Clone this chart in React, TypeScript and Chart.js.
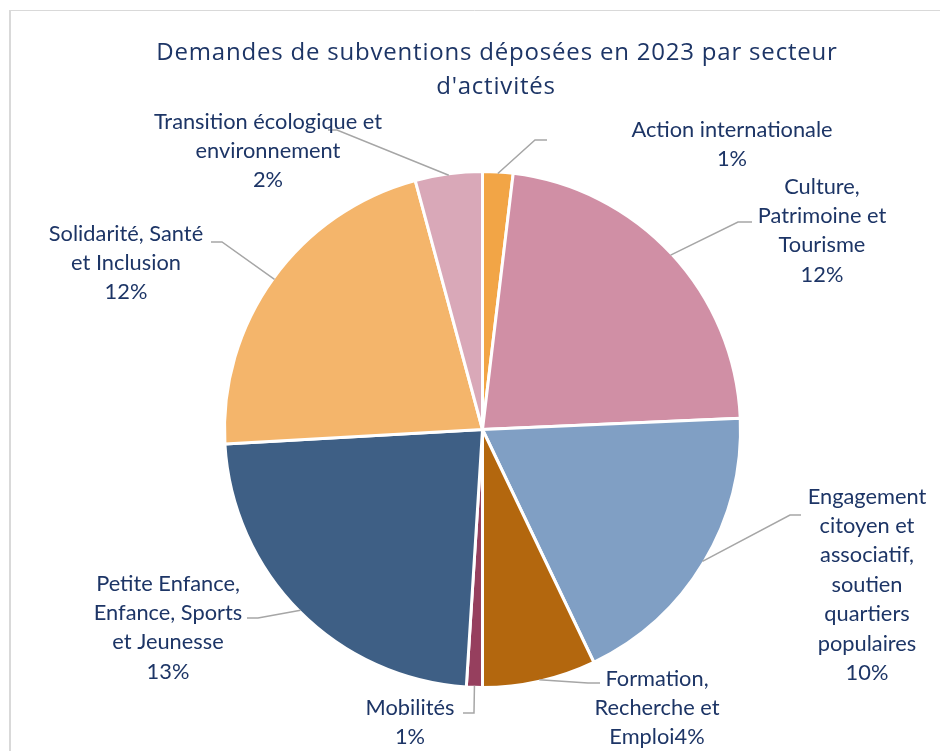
import React, { useEffect, useRef } from "react";
import { Chart, registerables } from "chart.js";

Chart.register(...registerables);

const categories = [
  "Action internationale",
  "Culture, Patrimoine et Tourisme",
  "Engagement citoyen et associatif, soutien quartiers populaires",
  "Formation, Recherche et Emploi",
  "Mobilités",
  "Petite Enfance, Enfance, Sports et Jeunesse",
  "Solidarité, Santé et Inclusion",
  "Transition écologique et environnement",
];

const sliceValues = [1.9, 22.4, 18.6, 7.1, 1.0, 23.1, 21.7, 4.2];

const labelLines = [
  ["Action internationale", "1%"],
  ["Culture,", "Patrimoine et", "Tourisme", "12%"],
  ["Engagement", "citoyen et", "associatif,", "soutien", "quartiers", "populaires", "10%"],
  ["Formation,", "Recherche et", "Emploi4%"],
  ["Mobilités", "1%"],
  ["Petite Enfance,", "Enfance, Sports", "et Jeunesse", "13%"],
  ["Solidarité, Santé", "et Inclusion", "12%"],
  ["Transition écologique et", "environnement", "2%"],
];

const sliceColors = [
  "#F2A546",
  "#D08FA5",
  "#809FC4",
  "#B3670E",
  "#963F5E",
  "#3E5F85",
  "#F4B56B",
  "#D9A8B8",
];

const titleLines = ["Demandes de subventions déposées en 2023 par secteur", "d'activités"];

// label placement (text centre x, first line centre y, leader elbow, leader end x)
const labelLayout = [
  { tx: 732, ty: 129, ex: 535, ey: 140, hx: 547 },
  { tx: 822, ty: 186, ex: 738, ey: 222, hx: 752 },
  { tx: 867, ty: 496, ex: 790, ey: 515, hx: 801 },
  { tx: 657, ty: 678, ex: 588, ey: 683, hx: 600 },
  { tx: 410, ty: 707, ex: 474, ey: 713, hx: 463 },
  { tx: 168, ty: 583, ex: 258, ey: 618, hx: 247 },
  { tx: 126, ty: 233, ex: 222, ey: 242, hx: 211 },
  { tx: 268, ty: 121, ex: 337, ey: 130, hx: 328 },
];

const TEXT_COLOR = "#1D3566";
const LINE_H = 29.4;

const calloutPlugin = {
  id: "callouts",
  beforeDraw(chart: any) {
    const ctx = chart.ctx;
    ctx.save();
    ctx.strokeStyle = "#D9D9D9";
    ctx.lineWidth = 1;
    ctx.beginPath();
    ctx.moveTo(9, 10.5);
    ctx.lineTo(940, 10.5);
    ctx.stroke();
    ctx.lineWidth = 2;
    ctx.beginPath();
    ctx.moveTo(10, 10);
    ctx.lineTo(10, 751);
    ctx.stroke();
    ctx.restore();
  },
  afterDatasetsDraw(chart: any) {
    const ctx = chart.ctx;
    const meta = chart.getDatasetMeta(0);
    ctx.save();
    // title
    ctx.fillStyle = TEXT_COLOR;
    ctx.textAlign = "center";
    ctx.textBaseline = "alphabetic";
    ctx.font = "400 24px 'Open Sans'";
    (ctx as any).letterSpacing = "0.8px";
    ctx.fillText(titleLines[0], 497, 60);
    ctx.fillText(titleLines[1], 496, 94);
    (ctx as any).letterSpacing = "0px";

    meta.data.forEach((arc: any, i: number) => {
      const p = arc.getProps(["x", "y", "startAngle", "endAngle", "outerRadius"], true);
      const mid = (p.startAngle + p.endAngle) / 2;
      const r = p.outerRadius - 1.5;
      const sx = p.x + Math.cos(mid) * r;
      const sy = p.y + Math.sin(mid) * r;
      const L = labelLayout[i];
      ctx.strokeStyle = "#A6A6A6";
      ctx.lineWidth = 1.5;
      ctx.beginPath();
      ctx.moveTo(sx, sy);
      ctx.lineTo(L.ex, L.ey);
      ctx.lineTo(L.hx, L.ey);
      ctx.stroke();

      ctx.fillStyle = TEXT_COLOR;
      ctx.font = "21.8px Lato";
      ctx.textAlign = "center";
      ctx.textBaseline = "alphabetic";
      labelLines[i].forEach((line, j) => {
        ctx.fillText(line, L.tx, L.ty + 7.5 + j * LINE_H);
      });
    });
    ctx.restore();
  },
};

export default function App() {
  const ref = useRef<HTMLCanvasElement | null>(null);
  useEffect(() => {
    if (!ref.current) return;
    const chart = new Chart(ref.current, {
      type: "pie",
      data: {
        labels: categories,
        datasets: [
          {
            data: sliceValues,
            backgroundColor: sliceColors,
            borderColor: "#FFFFFF",
            borderWidth: 3,
          },
        ],
      },
      options: {
        responsive: false,
        animation: false,
        radius: 258,
        layout: { padding: { left: 25, right: 0, top: 108, bottom: 0 } },
        plugins: {
          legend: { display: false },
          title: { display: false },
          tooltip: { enabled: false },
        },
      } as any,
      plugins: [calloutPlugin],
    });
    return () => chart.destroy();
  }, []);
  return (
    <div style={{ position: "absolute", left: 0, top: 0, width: 940, height: 751, background: "#fff" }}>
      <canvas ref={ref} width={940} height={751} style={{ width: 940, height: 751, display: "block" }} />
    </div>
  );
}
